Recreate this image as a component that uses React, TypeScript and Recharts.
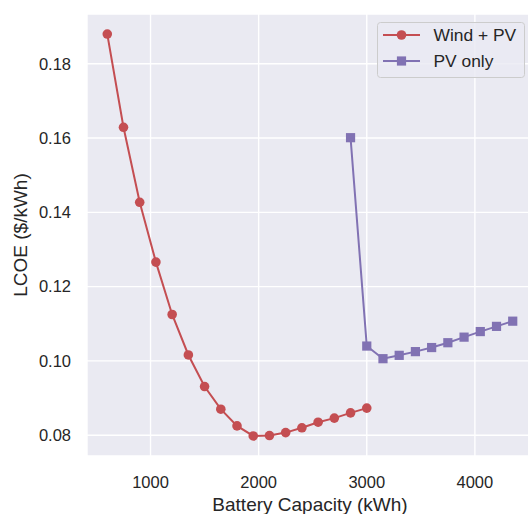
import React from "react";
import { LineChart, Line, XAxis, YAxis, CartesianGrid, Label } from "recharts";

const windCapacity = [600, 750, 900, 1050, 1200, 1350, 1500, 1650, 1800, 1950, 2100, 2250, 2400, 2550, 2700, 2850, 3000];
const windLCOE = [0.188, 0.1629, 0.1427, 0.1266, 0.1125, 0.1016, 0.0931, 0.087, 0.0825, 0.0798, 0.0799, 0.0807, 0.082, 0.0835, 0.0846, 0.086, 0.0873];

const pvCapacity = [2850, 3000, 3150, 3300, 3450, 3600, 3750, 3900, 4050, 4200, 4350];
const pvLCOE = [0.1601, 0.104, 0.1006, 0.1015, 0.1025, 0.1036, 0.1049, 0.1064, 0.1079, 0.1093, 0.1107];

const xTicks = [1000, 2000, 3000, 4000];
const yTicks = [0.08, 0.1, 0.12, 0.14, 0.16, 0.18];

const seriesNames = ["Wind + PV", "PV only"];
const RED = "#C44E52";
const PURPLE = "#8172B3";
const FONT = "'Liberation Sans', Arial, sans-serif";
const TEXT = "#262626";

const windData = windCapacity.map((x, i) => ({ x, y: windLCOE[i] }));
const pvData = pvCapacity.map((x, i) => ({ x, y: pvLCOE[i] }));

const SquareDot = (props: any) => {
  const { cx, cy, index } = props;
  if (cx == null || cy == null) return null;
  return <rect key={`sq-${index}`} x={cx - 4.6} y={cy - 4.6} width={9.2} height={9.2} fill={PURPLE} />;
};

const CircleDot = (props: any) => {
  const { cx, cy, index } = props;
  if (cx == null || cy == null) return null;
  return <circle key={`c-${index}`} cx={cx} cy={cy} r={4.8} fill={RED} />;
};

const LegendBox = () => (
  <svg width={148} height={56} style={{ display: "block" }}>
    <rect x={0.5} y={0.5} width={147} height={55} rx={3} ry={3} fill="rgba(234,234,242,0.8)" stroke="#cccccc" strokeWidth={1} />
    <line x1={6} y1={13} x2={43} y2={13} stroke={RED} strokeWidth={2} />
    <circle cx={24.5} cy={13} r={4.8} fill={RED} />
    <text x={56.5} y={19.2} fontFamily={FONT} fontSize={17.4} fill={TEXT}>{seriesNames[0]}</text>
    <line x1={6} y1={39} x2={43} y2={39} stroke={PURPLE} strokeWidth={2} />
    <rect x={24.5 - 4.6} y={39 - 4.6} width={9.2} height={9.2} fill={PURPLE} />
    <text x={56.5} y={44.7} fontFamily={FONT} fontSize={17.4} fill={TEXT}>{seriesNames[1]}</text>
  </svg>
);

const YLabel = (props: any) => {
  const vb = props.viewBox || {};
  const cx = 27;
  const cy = (vb.y ?? 14) + (vb.height ?? 442) / 2;
  return (
    <text
      x={cx}
      y={cy}
      transform={`rotate(-90 ${cx} ${cy})`}
      textAnchor="middle"
      fontFamily={FONT}
      fontSize={19}
      fill={TEXT}
    >
      LCOE ($/kWh)
    </text>
  );
};

export default function App() {
  return (
    <div style={{ position: "absolute", left: 0, top: 0, width: 528, height: 514, background: "#fff" }}>
      <LineChart width={528} height={514} margin={{ top: 14, right: -5, bottom: 0, left: 0 }}>
        <CartesianGrid fill="#EAEAF2" stroke="#ffffff" strokeWidth={1.4} horizontal vertical />
        <XAxis
          type="number"
          dataKey="x"
          domain={[412.5, 4537.5]}
          ticks={xTicks}
          allowDataOverflow
          axisLine={false}
          tickLine={false}
          tickSize={0}
          tickMargin={20}
          height={58}
          tick={{ fontFamily: FONT, fontSize: 16.5, fill: TEXT }}
        >
          <Label value="Battery Capacity (kWh)" position="insideBottom" offset={3} style={{ fontFamily: FONT, fontSize: 19, fill: TEXT }} />
        </XAxis>
        <YAxis
          type="number"
          dataKey="y"
          domain={[0.0744, 0.1934]}
          ticks={yTicks}
          allowDataOverflow
          axisLine={false}
          tickLine={false}
          tickSize={0}
          tickMargin={16}
          width={87}
          tickFormatter={(v: number) => v.toFixed(2)}
          tick={{ fontFamily: FONT, fontSize: 16.5, fill: TEXT }}
          label={<YLabel />}
        />
        <Line
          data={windData}
          dataKey="y"
          name={seriesNames[0]}
          stroke={RED}
          strokeWidth={2}
          dot={<CircleDot />}
          activeDot={false}
          isAnimationActive={false}
          type="linear"
        />
        <Line
          data={pvData}
          dataKey="y"
          name={seriesNames[1]}
          stroke={PURPLE}
          strokeWidth={2}
          dot={<SquareDot />}
          activeDot={false}
          isAnimationActive={false}
          type="linear"
        />
      </LineChart>
      <div style={{ position: "absolute", left: 377, top: 22, width: 148, height: 56 }}>
        <LegendBox />
      </div>
    </div>
  );
}
